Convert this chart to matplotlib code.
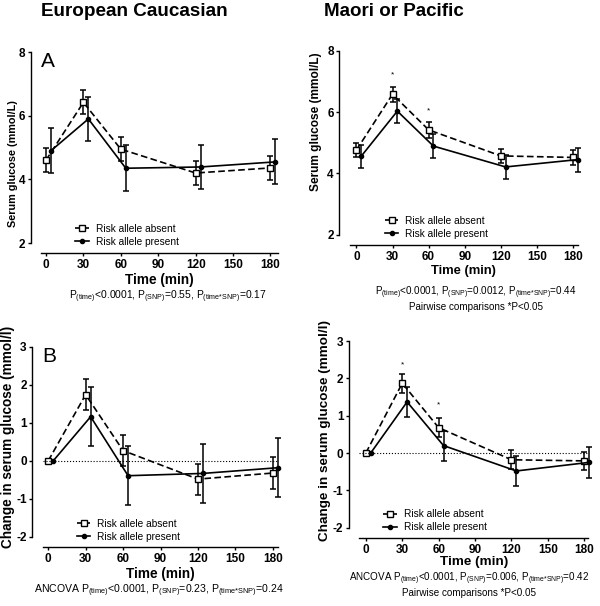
import matplotlib.pyplot as plt

plt.rcParams['font.family'] = ['Liberation Sans', 'DejaVu Sans']
plt.rcParams['mathtext.fontset'] = 'custom'
plt.rcParams['mathtext.rm'] = 'Liberation Sans'
plt.rcParams['axes.unicode_minus'] = False

# time points (min); the "present" series is drawn a few minutes to the right
times = [0, 30, 60, 120, 180]
shift = 4

# A: European Caucasian, serum glucose (mmol/L)
a_absent = [4.60, 6.42, 4.95, 4.20, 4.36]
a_absent_err = [0.38, 0.38, 0.37, 0.38, 0.37]
a_present = [4.90, 5.90, 4.35, 4.39, 4.55]
a_present_err = [0.70, 0.70, 0.72, 0.70, 0.71]

# C: Maori or Pacific, serum glucose (mmol/L)
c_absent = [4.76, 6.58, 5.42, 4.57, 4.52]
c_absent_err = [0.24, 0.24, 0.25, 0.24, 0.24]
c_present = [4.56, 6.03, 4.89, 4.21, 4.45]
c_present_err = [0.38, 0.38, 0.38, 0.38, 0.39]

# B: European Caucasian, change in serum glucose (mmol/l)
b_absent = [0.0, 1.74, 0.27, -0.48, -0.32]
b_absent_err = [0.0, 0.41, 0.41, 0.41, 0.41]
b_present = [0.0, 1.16, -0.39, -0.33, -0.18]
b_present_err = [0.0, 0.78, 0.78, 0.78, 0.78]

# D: Maori or Pacific, change in serum glucose (mmol/l)
d_absent = [0.0, 1.87, 0.68, -0.18, -0.21]
d_absent_err = [0.0, 0.26, 0.26, 0.25, 0.25]
d_present = [0.0, 1.37, 0.20, -0.48, -0.25]
d_present_err = [0.0, 0.40, 0.40, 0.40, 0.41]

c_stars = [(30, 7.2), (60, 6.05)]
d_stars = [(30, 2.36), (60, 1.30)]

xticks = [0, 30, 60, 90, 120, 150, 180]

fig = plt.figure(figsize=(6.0, 6.06), dpi=100)


def draw_panel(rect, absent, absent_err, present, present_err, ylim, yticks,
               ylabel, ylabel_xy, ylabel_size, xlabel_size, xlim, leg_xy,
               zero=False, xpad=1.5):
    ax = fig.add_axes(rect)
    px = [t + shift for t in times]
    ax.errorbar(times, absent, yerr=absent_err, fmt='none', ecolor='black',
                capsize=2.5, elinewidth=1.1, capthick=1.1, clip_on=False)
    ax.errorbar(px, present, yerr=present_err, fmt='none', ecolor='black',
                capsize=2.5, elinewidth=1.1, capthick=1.1, clip_on=False)
    ax.plot(times, absent, color='black', lw=1.2, ls=(0, (4, 2)), marker='s',
            ms=4.5, mfc='white', mec='black', mew=1.0, clip_on=False,
            label='Risk allele absent')
    ax.plot(px, present, color='black', lw=1.2, marker='o', ms=3,
            clip_on=False, label='Risk allele present')
    if zero:
        ax.axhline(0, color='black', lw=0.8, ls=':')
    ax.set_xlim(*xlim)
    ax.set_ylim(*ylim)
    ax.set_xticks(xticks)
    ax.set_yticks(yticks)
    for s in ['top', 'right']:
        ax.spines[s].set_visible(False)
    for s in ['left', 'bottom']:
        ax.spines[s].set_position(('outward', 7.5))
        ax.spines[s].set_linewidth(1.0)
    ax.tick_params(length=2.5, width=1.0, labelsize=8.5, pad=1.5)
    for lab in ax.get_xticklabels() + ax.get_yticklabels():
        lab.set_fontweight('bold')
    ax.set_xlabel('Time (min)', fontsize=xlabel_size, fontweight='bold',
                  labelpad=xpad)
    ax.set_ylabel(ylabel, fontsize=ylabel_size, fontweight='bold')
    ax.yaxis.set_label_coords(*ylabel_xy)
    ax.legend(loc='center left', bbox_to_anchor=leg_xy, frameon=False,
              fontsize=7.3, handlelength=1.3, handletextpad=0.7,
              borderpad=0, borderaxespad=0, labelspacing=0.3)
    return ax


ax_a = draw_panel([0.0683, 0.599, 0.395, 0.315], a_absent, a_absent_err,
                  a_present, a_present_err, (2, 8), [2, 4, 6, 8],
                  'Serum glucose (mmol/L)', (-0.097, 0.414), 7.8, 9.8,
                  (-4, 186), (0.145, 0.04))
ax_a.text(0.0, 1.0, 'A', transform=ax_a.transAxes, fontsize=15,
          va='top', ha='left')

ax_c = draw_panel([0.583, 0.6127, 0.38, 0.3036], c_absent, c_absent_err,
                  c_present, c_present_err, (2, 8), [2, 4, 6, 8],
                  'Serum glucose (mmol/L)', (-0.123, 0.614), 8.6, 9.4,
                  (-5.5, 184), (0.155, 0.04))
for x, y in c_stars:
    ax_c.text(x, y, '*', fontsize=6, ha='center', va='center')

ax_b = draw_panel([0.071, 0.1139, 0.392, 0.314], b_absent, b_absent_err,
                  b_present, b_present_err, (-2, 3), [-2, -1, 0, 1, 2, 3],
                  'Change in serum glucose (mmol/l)', (-0.118, 0.525),
                  9.8, 9.8, (-4.5, 184), (0.147, 0.035), zero=True)
ax_b.text(0.0, 1.0, 'B', transform=ax_b.transAxes, fontsize=15,
          va='top', ha='left')

ax_d = draw_panel([0.599, 0.1292, 0.3817, 0.308], d_absent, d_absent_err,
                  d_present, d_present_err, (-2, 3), [-2, -1, 0, 1, 2, 3],
                  'Change in serum glucose (mmol/l)', (-0.122, 0.52),
                  9.7, 9.7, (-5.3, 183.4), (0.105, 0.037), zero=True,
                  xpad=0.5)
for x, y in d_stars:
    ax_d.text(x, y, '*', fontsize=6, ha='center', va='center')

# column headers
fig.text(134 / 600, 1 - 11 / 606, 'European Caucasian', fontsize=13.6,
         fontweight='bold', ha='center', va='center')
fig.text(394 / 600, 1 - 11 / 606, 'Maori or Pacific', fontsize=13.5,
         fontweight='bold', ha='center', va='center')

# statistics notes
p_ec = (r'P$_{\mathrm{(time)}}$<0.0001, P$_{\mathrm{(SNP)}}$=0.55, '
        r'P$_{\mathrm{(time{*}SNP)}}$=0.17')
p_mp = (r'P$_{\mathrm{(time)}}$<0.0001, P$_{\mathrm{(SNP)}}$=0.0012, '
        r'P$_{\mathrm{(time{*}SNP)}}$=0.44')
p_ec2 = (r'ANCOVA P$_{\mathrm{(time)}}$<0.0001, P$_{\mathrm{(SNP)}}$=0.23, '
         r'P$_{\mathrm{(time{*}SNP)}}$=0.24')
p_mp2 = (r'ANCOVA P$_{\mathrm{(time)}}$<0.0001, P$_{\mathrm{(SNP)}}$=0.006, '
         r'P$_{\mathrm{(time{*}SNP)}}$=0.42')
pair = 'Pairwise comparisons *P<0.05'

fig.text(168 / 600, 1 - 297 / 606, p_ec, fontsize=7.4, ha='center', va='center')
fig.text(476 / 600, 1 - 293 / 606, p_mp, fontsize=7.1, ha='center', va='center')
fig.text(476 / 600, 1 - 306.5 / 606, pair, fontsize=7.1, ha='center', va='center')
fig.text(159 / 600, 1 - 591 / 606, p_ec2, fontsize=7.6, ha='center', va='center')
fig.text(469 / 600, 1 - 579 / 606, p_mp2, fontsize=7.1, ha='center', va='center')
fig.text(469 / 600, 1 - 593.5 / 606, pair, fontsize=7.1, ha='center', va='center')

fig.savefig('out.png', dpi=100)
